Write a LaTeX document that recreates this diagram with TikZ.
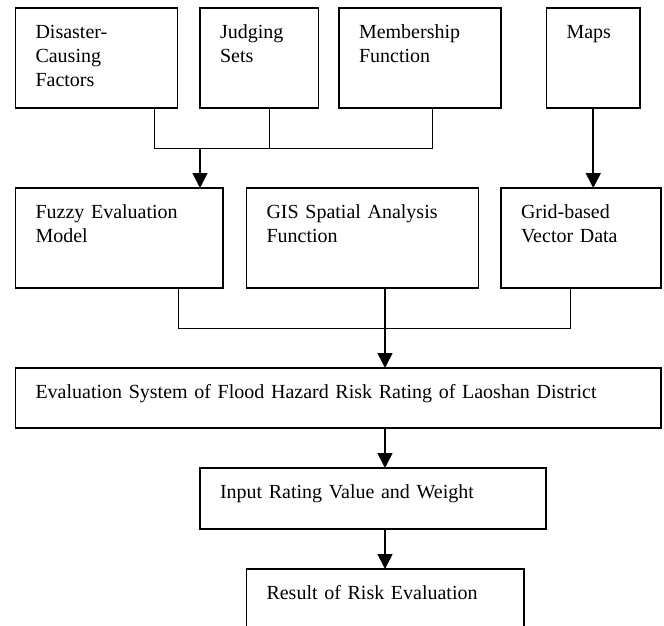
\documentclass[tikz,border=0pt]{standalone}
\usepackage{fontspec}
\setmainfont{Liberation Serif}[WordSpace=0.9]
\usetikzlibrary{positioning,arrows.meta}
\tikzset{
    blk/.style = {
        draw,
        line width=1.8pt,
        rectangle,
        outer sep=0pt,
        inner xsep=20pt,
        inner ysep=0pt,
        align=left,
        text height=30.5pt,
        font=\fontsize{20pt}{23.8pt}\selectfont,
        },
    tall/.style = {
        text depth=69.5pt,
        },
    flat/.style = {
        text depth=29.5pt,
        },
    link/.style = {
        line width=1pt,
        },
    flow/.style = {
        line width=1.6pt,
        -{Triangle[length=15pt,width=15pt]},
        },
}

\begin{document}
\begin{tikzpicture}[x=1pt, y=1pt]
            \useasboundingbox (0,0) rectangle (664,-626);
            \clip (0,0) rectangle (664,-626);

            \node[blk, tall, text width=122pt, anchor=north west] (dcf) at (15.5,-8) {Disaster-\\Causing\\Factors};
            \node[blk, tall, text width=78.5pt, right=22.5pt of dcf] (jset) {Judging\\Sets};
            \node[blk, tall, text width=122pt, right=20.5pt of jset] (mfun) {Membership\\Function};
            \node[blk, tall, text width=53.5pt, right=45.5pt of mfun] (maps) {Maps};

            \node[blk, tall, text width=167.5pt, below=80pt of dcf.south west, anchor=north west] (fem) {Fuzzy Evaluation\\Model};
            \node[blk, tall, text width=192pt, right=23.5pt of fem] (gis) {GIS Spatial Analysis\\Function};
            \node[blk, tall, text width=120pt, right=22.5pt of gis] (grid) {Grid-based\\Vector Data};

            \node[blk, flat, text width=605.5pt, below=80pt of fem.south west, anchor=north west] (evs) {Evaluation System of Flood Hazard Risk Rating of Laoshan District};
            \node[blk, flat, text depth=30.5pt, text width=306pt, below=40pt of evs.south west, anchor=north west, xshift=184.5pt] (irv) {Input Rating Value and Weight};
            \node[blk, tall, text width=237.5pt, below=40pt of irv.south west, anchor=north west, xshift=46.5pt] (res) {Result of Risk Evaluation};

            \coordinate (jn) at (200,-148);
            \coordinate (kn) at (385,-328.5);

            \draw[link] ([xshift=58pt]dcf.south) |- ([xshift=12pt]mfun.south |- jn) -- ([xshift=12pt]mfun.south);
            \draw[link] ([xshift=10.5pt]jset.south) -- ([xshift=10.5pt]jset.south |- jn);
            \draw[flow] (jn) -- (jn |- fem.north);
            \draw[flow] (maps.south) -- (maps.south |- grid.north);

            \draw[link] ([xshift=58.75pt]fem.south) |- ([xshift=-11pt]grid.south |- kn) -- ([xshift=-11pt]grid.south);
            \draw[flow] (kn |- gis.south) -- (kn |- evs.north);
            \draw[flow] (kn |- evs.south) -- (kn |- irv.north);
            \draw[flow] (kn |- irv.south) -- (kn |- res.north);
        \end{tikzpicture}
\end{document}
